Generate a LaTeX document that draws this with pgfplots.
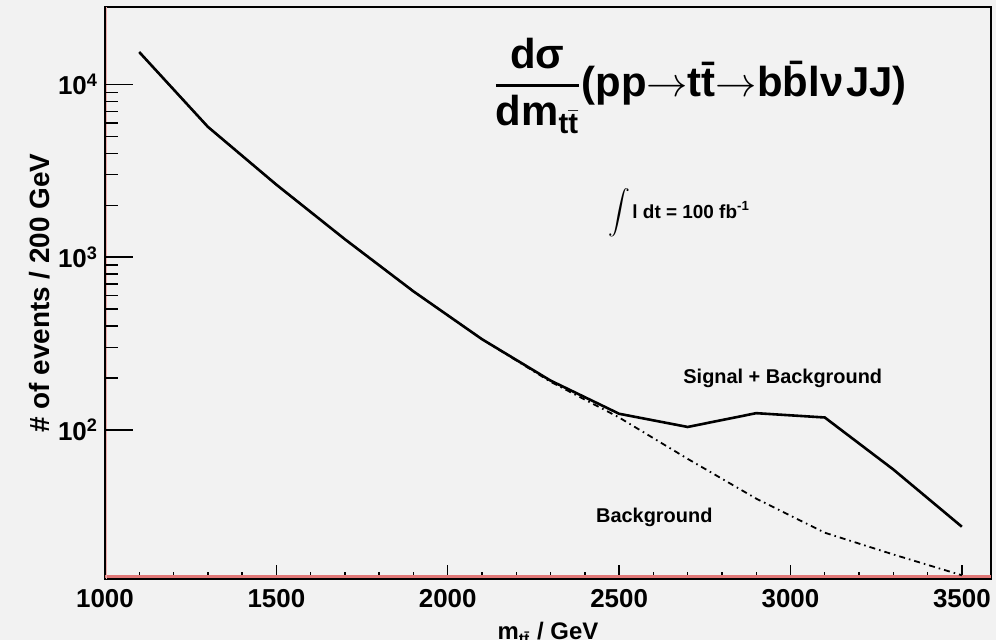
\documentclass[border=0pt]{standalone}
\usepackage{fontspec}
\setmainfont{Liberation Sans}
\usepackage{amsmath}
\usepackage{pgfplots}
\pgfplotsset{compat=1.18}
\definecolor{bggray}{gray}{0.95}
\definecolor{rootred}{RGB}{225,120,120}

% signal + background, events per 200 GeV bin
\pgfplotstableread{
m     n
1100  15400
1300  5690
1500  2630
1700  1270
1900  634
2100  335
2300  193
2500  124
2700  104
2900  125
3100  118
3300  59
3500  27.5
}\sigbkg

% background only
\pgfplotstableread{
m     n
1100  15400
1300  5690
1500  2630
1700  1270
1900  634
2100  335
2300  190
2500  118
2700  68
2900  40
3100  25.4
3300  19
3500  14.4
}\bkg

\begin{document}
\begin{tikzpicture}
\fill[bggray] (-52.5bp,-30.5bp) rectangle (445.5bp,289.5bp);
\begin{axis}[
  scale only axis, width=443bp, height=286bp,
  at={(0,0)}, anchor=south west,
  ymode=log,
  xmin=1000, xmax=3585, ymin=13.7, ymax=28100,
  tick pos=left, tick align=inside,
  xtick={1000,1500,2000,2500,3000,3500},
  xticklabels={1000,1500,2000,2500,3000,3500},
  minor x tick num=4,
  ytick={100,1000,10000},
  yticklabels={10\textsuperscript{2},10\textsuperscript{3},10\textsuperscript{4}},
  major tick length=7bp, minor tick length=3.5bp,
  tick style={black, line width=0.7bp},
  axis line style={black, line width=0.7bp},
  tick label style={font=\fontsize{13}{15}\selectfont\bfseries},
  xticklabel style={yshift=-1.5bp},
  xlabel={m\textsubscript{t\=t} / GeV},
  ylabel={\# of events / 200 GeV},
  every axis x label/.style={at={(axis description cs:0.5,-0.0752)}, anchor=north, inner sep=0pt, font=\fontsize{12}{14}\selectfont\bfseries},
  every axis y label/.style={at={(axis description cs:-0.0734,0.5)}, rotate=90, anchor=center, inner sep=0pt, font=\fontsize{14}{16}\selectfont\bfseries},
]
\draw[rootred, line width=1.4bp] ([yshift=1.3bp]rel axis cs:0,0) -- ([yshift=1.3bp]rel axis cs:1,0);
\draw[rootred!60, line width=0.6bp] ([xshift=0.8bp]rel axis cs:0,0) -- ([xshift=0.8bp]rel axis cs:0,1);
\addplot[black, line width=0.9bp, dash pattern=on 3bp off 2bp on 0.8bp off 2bp] table[x=m, y=n] {\bkg};
\addplot[black, line width=1.3bp] table[x=m, y=n] {\sigbkg};
\node[anchor=west, inner sep=0pt, font=\fontsize{21}{25}\selectfont\bfseries] at (axis description cs:0.438,0.862)
  {$\genfrac{}{}{1.3pt}{0}{\text{dσ}}{\text{dm}_{\text{t}\bar{\text{t}}}}$(pp$\rightarrow$t\=t$\rightarrow$b\=bl\kern0.5pt ν\kern1pt JJ)};
\node[anchor=west, inner sep=0pt, font=\fontsize{9.5}{11}\selectfont\bfseries] at (axis description cs:0.568,0.640)
  {{\fontsize{10.5}{12}\selectfont$\displaystyle\int$}\kern1pt l dt = 100 fb\textsuperscript{-1}};
\node[font=\fontsize{10}{12}\selectfont\bfseries] at (axis description cs:0.765,0.351) {Signal + Background};
\node[font=\fontsize{10}{12}\selectfont\bfseries] at (axis description cs:0.620,0.108) {Background};
\end{axis}
% second frame only for the longer y ticks
\begin{axis}[
  scale only axis, width=443bp, height=286bp,
  at={(0,0)}, anchor=south west,
  ymode=log,
  xmin=1000, xmax=3585, ymin=13.7, ymax=28100,
  tick pos=left, tick align=inside,
  xtick=\empty,
  ytick={100,1000,10000}, yticklabels={,,},
  major tick length=14bp, minor tick length=6.5bp,
  tick style={black, line width=0.7bp},
  axis line style={draw=none},
]
\end{axis}
\pgfresetboundingbox
\path[use as bounding box] (-52.5bp,-30.5bp) rectangle (445.5bp,289.5bp);
\end{tikzpicture}
\end{document}
